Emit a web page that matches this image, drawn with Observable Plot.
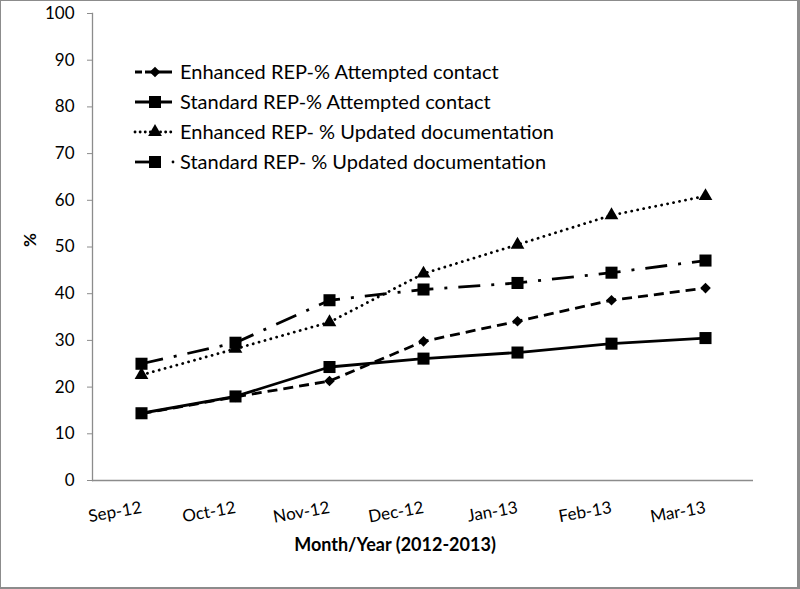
<!DOCTYPE html>
<html><head><meta charset="utf-8">
<script src="https://cdn.jsdelivr.net/npm/d3@7"></script>
<script src="https://cdn.jsdelivr.net/npm/@observablehq/plot@0.6"></script>
<style>
body{margin:0;background:#fff;}
#wrap{position:relative;width:800px;height:589px;font-family:Lato,sans-serif;color:#000;}
#border{position:absolute;left:0;top:0;width:800px;height:589px;box-sizing:border-box;border:1px solid #8c8c8c;border-right-width:3px;border-bottom-width:2px;pointer-events:none;}
#legend{position:absolute;left:130px;top:57px;}
</style></head><body>
<div id="wrap"><div id="chart"></div><div id="legend"></div><div id="border"></div></div>
<script>
const months = ["Sep-12","Oct-12","Nov-12","Dec-12","Jan-13","Feb-13","Mar-13"];
const seriesNames = [
  "Enhanced REP-% Attempted contact",
  "Standard REP-% Attempted contact",
  "Enhanced REP- % Updated documentation",
  "Standard REP- % Updated documentation"
];
const enhancedAttempted = [14.3, 17.9, 21.3, 29.8, 34.1, 38.6, 41.2];
const standardAttempted = [14.4, 18.0, 24.3, 26.1, 27.4, 29.3, 30.5];
const enhancedUpdated   = [22.6, 28.2, 33.9, 44.3, 50.5, 56.8, 60.9];
const standardUpdated   = [25.0, 29.5, 38.6, 40.9, 42.3, 44.5, 47.1];
const yTicks = [0,10,20,30,40,50,60,70,80,90,100];
const yLabel = "%";
const xTitle = "Month/Year (2012-2013)";

const seriesValues = [enhancedAttempted, standardAttempted, enhancedUpdated, standardUpdated];
const styles = [
  {dash:"10,6", cap:"butt", symbol:"diamond2", r:4.8},
  {dash:null, cap:"butt", symbol:"square", r:6.8},
  {dash:"0.1,6", cap:"round", symbol:"triangle", r:5.1},
  {dash:"22,11,3,11", cap:"butt", symbol:"square", r:6.8}
];
const data = [];
seriesValues.forEach((vals, i) => vals.forEach((v, j) => data.push({series: seriesNames[i], month: months[j], value: v})));

const marks = [
  Plot.ruleY([0], {stroke:"#8c8c8c", strokeWidth:1.3}),
  Plot.frame({anchor:"left", stroke:"#8c8c8c", strokeWidth:1.3}),
  Plot.axisY({ticks: yTicks, tickSize:5, tickPadding:13, fontSize:17, label:null, stroke:"#8c8c8c"}),
  Plot.axisX({tickSize:0, tickRotate:-10, tickPadding:27, fontSize:17, textAnchor:"end", label:null}),
  Plot.text([yLabel], {frameAnchor:"left", dx:-62, rotate:-90, fontWeight:"bold", fontSize:17}),
  Plot.text([xTitle], {frameAnchor:"bottom", dy:70, dx:-28, fontWeight:"bold", fontSize:18})
];
seriesNames.forEach((s, i) => {
  const d = data.filter(e => e.series === s);
  const st = styles[i];
  marks.push(Plot.line(d, {x:"month", y:"value", stroke:"black", strokeWidth:2.8, strokeDasharray: st.dash, strokeLinecap: st.cap}));
});
seriesNames.forEach((s, i) => {
  const d = data.filter(e => e.series === s);
  const st = styles[i];
  marks.push(Plot.dot(d, {x:"month", y:"value", symbol: st.symbol, r: st.r, fill:"black", stroke:"none"}));
});

const chart = Plot.plot({
  width:800, height:589,
  marginLeft:92, marginRight:47, marginTop:13, marginBottom:109,
  style:{fontFamily:"Lato, sans-serif", color:"#000", background:"#fff"},
  x:{type:"point", domain: months, padding:0.5},
  y:{domain:[0,100]},
  marks
});
document.getElementById("chart").appendChild(chart);

// Legend
const lg = d3.select("#legend").append("svg").attr("width", 480).attr("height", 120)
  .style("font-family","Lato, sans-serif");
const rowH = 30;
seriesNames.forEach((s, i) => {
  const g = lg.append("g").attr("transform", `translate(0,${15 + i*rowH})`);
  const st = styles[i];
  if (i === 3) {
    g.append("line").attr("x1",5).attr("x2",20).attr("y1",0).attr("y2",0).attr("stroke","black").attr("stroke-width",2.8);
    g.append("circle").attr("cx",43).attr("cy",0).attr("r",1.4).attr("fill","black");
  } else {
    g.append("line").attr("x1",5).attr("x2",42).attr("y1",0).attr("y2",0).attr("stroke","black").attr("stroke-width",2.8)
      .attr("stroke-dasharray", i===0 ? "7,3,30" : i===2 ? "0.1,5" : null).attr("stroke-linecap", st.cap);
  }
  const sym = {diamond2: d3.symbolDiamond2, square: d3.symbolSquare, triangle: d3.symbolTriangle}[st.symbol];
  g.append("path").attr("transform","translate(25,0)").attr("d", d3.symbol(sym, Math.PI*st.r*st.r)()).attr("fill","black");
  g.append("text").attr("x",50).attr("y",0).attr("dy","0.35em").attr("font-size",20).text(s);
});
</script>
</body></html>
